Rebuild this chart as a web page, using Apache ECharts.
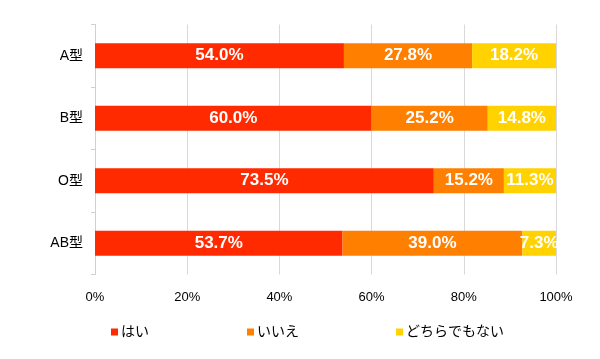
<!DOCTYPE html>
<html><head><meta charset="utf-8">
<script src="https://cdn.jsdelivr.net/npm/echarts@6/dist/echarts.min.js"></script>
<style>html,body{margin:0;padding:0;background:#fff}#c{width:600px;height:359px}</style>
</head><body><div id="c"></div>
<script>
const categories = ['A型', 'B型', 'O型', 'AB型'];
const seriesNames = ['はい', 'いいえ', 'どちらでもない'];
const yes = [54.0, 60.0, 73.5, 53.7];
const no = [27.8, 25.2, 15.2, 39.0];
const neither = [18.2, 14.8, 11.3, 7.3];
const colors = ['#FF2A00', '#FF7F00', '#FFD200'];
const font = '"Liberation Sans", Helvetica, Arial, "Noto Sans CJK JP", sans-serif';

const chart = echarts.init(document.getElementById('c'));
function mk(name, data, i) {
  return {
    name, type: 'bar', stack: 'total', data, barWidth: 25,
    itemStyle: { color: colors[i] },
    label: { show: true, position: 'inside', color: '#fff', fontWeight: 'bold', fontSize: 17, fontFamily: font,
      formatter: p => p.value.toFixed(1) + '%' },
    emphasis: { disabled: true }
  };
}
const legendLefts = [106, 242, 391];
chart.setOption({
  animation: false,
  textStyle: { fontFamily: font },
  grid: { left: 95, right: 44, top: 24.5, bottom: 84.5, containLabel: false },
  legend: seriesNames.map((n, i) => ({
    left: legendLefts[i], top: 320, itemWidth: 7, itemHeight: 7, icon: 'rect',
    textStyle: { fontSize: 14, color: '#000', fontFamily: font, padding: [0, 0, 0, -2] },
    data: [n]
  })),
  xAxis: {
    type: 'value', min: 0, max: 100, interval: 20,
    axisLabel: { formatter: '{value}%', fontSize: 13, color: '#000', margin: 16 },
    splitLine: { show: true, lineStyle: { color: '#d9d9d9' } },
    axisLine: { show: false }, axisTick: { show: false }
  },
  yAxis: {
    type: 'category', data: categories, inverse: true,
    axisLine: { show: true, lineStyle: { color: '#d0d0d0' } },
    axisTick: { show: true, length: 4, lineStyle: { color: '#d0d0d0' } },
    axisLabel: { fontSize: 14, color: '#000', margin: 12 }
  },
  series: [mk(seriesNames[0], yes, 0), mk(seriesNames[1], no, 1), mk(seriesNames[2], neither, 2)]
});
</script></body></html>
